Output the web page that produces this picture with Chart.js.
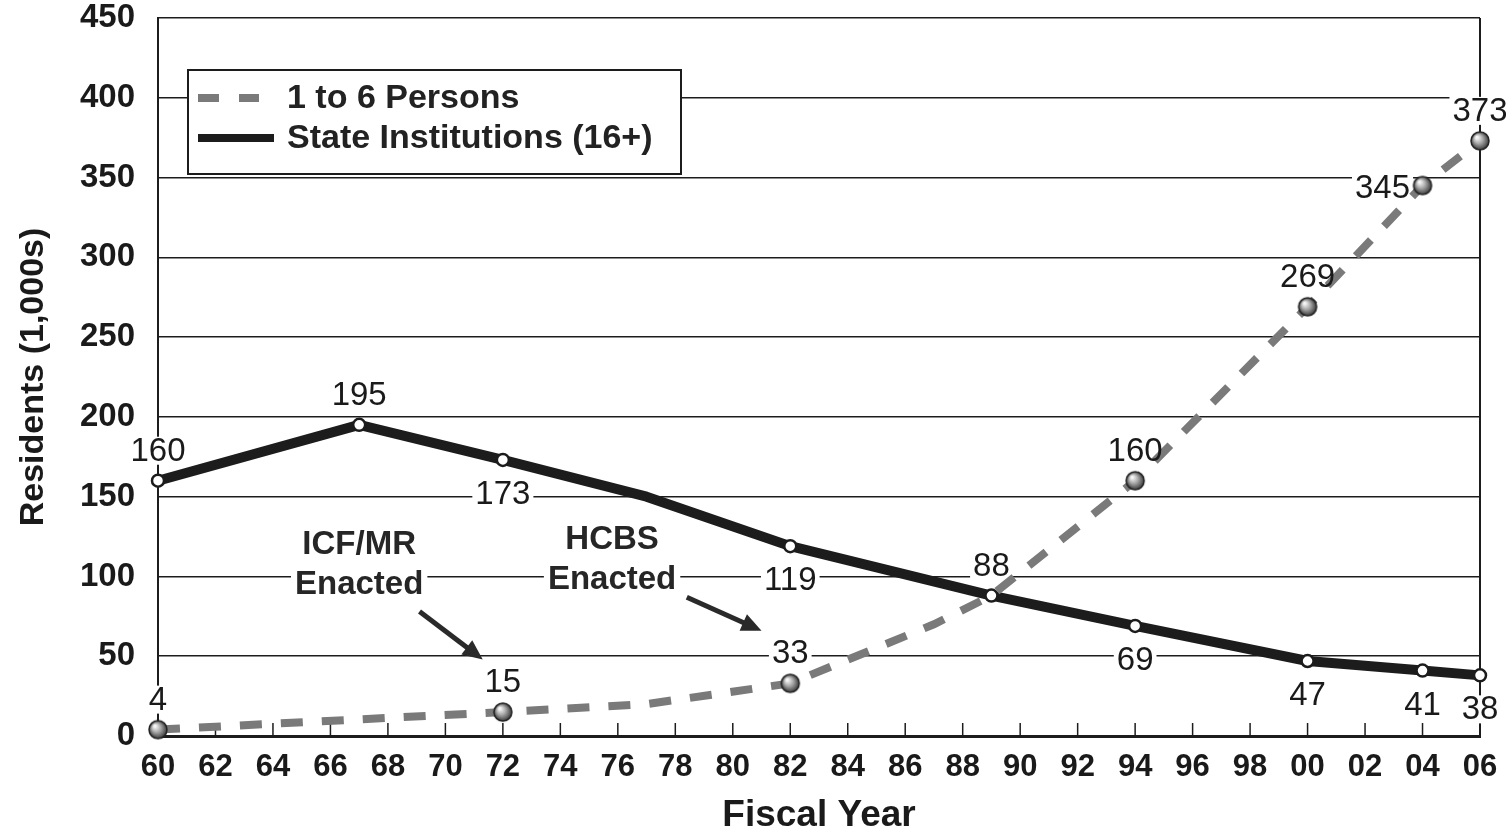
<!DOCTYPE html>
<html>
<head>
<meta charset="utf-8">
<title>Residents by Fiscal Year</title>
<script src="https://cdn.jsdelivr.net/npm/chart.js@4.4.1/dist/chart.umd.min.js"></script>
<style>
  html, body { margin: 0; padding: 0; background: #fff; }
  #chart { display: block; }
</style>
</head>
<body>
<canvas id="chart" width="1506" height="834"></canvas>
<script>
// Residents (1,000s) by fiscal year
const stateYears = [1960, 1967, 1972, 1977, 1982, 1989, 1994, 2000, 2004, 2006];
const stateResidents = [160, 195, 173, 150, 119, 88, 69, 47, 41, 38];

const smallYears = [1960, 1972, 1977, 1982, 1987, 1989, 1994, 2000, 2004, 2006];
const smallResidents = [4, 15, 20, 33, 70, 88, 160, 269, 345, 373];

const seriesNames = ['1 to 6 Persons', 'State Institutions (16+)'];

// which points carry a marker + value label, and on which side (null = none)
const stateLabelSide = ['above', 'above', 'below', null, 'below', 'above', 'below', 'below', 'below', 'below'];
const smallLabelSide = ['above', 'above', null, 'above', null, null, 'above', 'above', 'left', 'above'];

// notes written on the chart, placed in data units (year, residents)
const notes = [
  { lines: ['ICF/MR', 'Enacted'], year: 1967, at: [120, 95], arrow: [[1969.1, 78], [1971.3, 48]] },
  { lines: ['HCBS', 'Enacted'], year: 1975.8, at: [123, 98], arrow: [[1978.4, 87], [1981.0, 66]] }
];

const FONT = "'Liberation Sans', Arial, Helvetica, sans-serif";
const DASH_GREY = '#7a7a7a';
const INK = '#1c1c1c';

// little shaded ball used for the dashed series markers
function makeSphere(r) {
  const c = document.createElement('canvas');
  const s = r * 2 + 4;
  c.width = s;
  c.height = s;
  const g = c.getContext('2d');
  const grad = g.createRadialGradient(s / 2 - r * 0.35, s / 2 - r * 0.4, 1, s / 2, s / 2, r);
  grad.addColorStop(0, '#f6f6f6');
  grad.addColorStop(0.45, '#a9a9a9');
  grad.addColorStop(1, '#3a3a3a');
  g.fillStyle = grad;
  g.beginPath();
  g.arc(s / 2, s / 2, r, 0, Math.PI * 2);
  g.fill();
  g.lineWidth = 1.5;
  g.strokeStyle = '#222';
  g.stroke();
  return c;
}
const sphere = makeSphere(9);

function labelOffset(side) {
  if (side === 'above') return [0, -30];
  if (side === 'below') return [0, 34];
  if (side === 'left') return [-40, 2];
  return [0, 0];
}

function eachLabel(chart, fn) {
  chart.data.datasets.forEach((ds, i) => {
    const meta = chart.getDatasetMeta(i);
    const sides = ds.labelSide;
    meta.data.forEach((pt, j) => {
      const side = sides[j];
      if (!side) return;
      const [dx, dy] = labelOffset(side);
      fn(String(ds.data[j].y), pt.x + dx, pt.y + dy);
    });
  });
}

// value labels, notes, inner tick marks, right border and the boxed legend
const decorations = {
  id: 'decorations',
  beforeDatasetsDraw(chart) {
    const { ctx, chartArea: area, scales: { x, y } } = chart;
    ctx.save();

    // short tick marks pointing up into the plot
    ctx.strokeStyle = INK;
    ctx.lineWidth = 1.5;
    x.ticks.forEach(t => {
      if (t.value === 1960) return;
      const px = x.getPixelForValue(t.value);
      ctx.beginPath();
      ctx.moveTo(px, area.bottom);
      ctx.lineTo(px, area.bottom - 13);
      ctx.stroke();
    });

    // right-hand frame line
    ctx.lineWidth = 2;
    ctx.beginPath();
    ctx.moveTo(area.right, area.top);
    ctx.lineTo(area.right, area.bottom);
    ctx.stroke();

    // white patches behind value labels so grid lines break around them
    ctx.font = '33px ' + FONT;
    ctx.fillStyle = '#fff';
    eachLabel(chart, (text, lx, ly) => {
      const w = ctx.measureText(text).width;
      ctx.fillRect(lx - w / 2 - 3, ly - 14, w + 6, 28);
    });

    // notes with arrows
    ctx.font = 'bold 33px ' + FONT;
    ctx.textAlign = 'center';
    ctx.textBaseline = 'middle';
    notes.forEach(n => {
      const nx = x.getPixelForValue(n.year);
      n.lines.forEach((line, k) => {
        const ny = y.getPixelForValue(n.at[k]);
        const w = ctx.measureText(line).width;
        ctx.fillStyle = '#fff';
        ctx.fillRect(nx - w / 2 - 4, ny - 15, w + 8, 30);
        ctx.fillStyle = '#262626';
        ctx.fillText(line, nx, ny);
      });
      const x1 = x.getPixelForValue(n.arrow[0][0]);
      const y1 = y.getPixelForValue(n.arrow[0][1]);
      const x2 = x.getPixelForValue(n.arrow[1][0]);
      const y2 = y.getPixelForValue(n.arrow[1][1]);
      const ang = Math.atan2(y2 - y1, x2 - x1);
      ctx.strokeStyle = '#2a2a2a';
      ctx.lineWidth = 5;
      ctx.beginPath();
      ctx.moveTo(x1, y1);
      ctx.lineTo(x2 - 14 * Math.cos(ang), y2 - 14 * Math.sin(ang));
      ctx.stroke();
      ctx.fillStyle = '#2a2a2a';
      ctx.beginPath();
      ctx.moveTo(x2, y2);
      ctx.lineTo(x2 - 20 * Math.cos(ang) + 9 * Math.sin(ang), y2 - 20 * Math.sin(ang) - 9 * Math.cos(ang));
      ctx.lineTo(x2 - 20 * Math.cos(ang) - 9 * Math.sin(ang), y2 - 20 * Math.sin(ang) + 9 * Math.cos(ang));
      ctx.closePath();
      ctx.fill();
    });
    ctx.restore();
  },
  afterDatasetsDraw(chart) {
    const { ctx, chartArea: area } = chart;
    ctx.save();
    ctx.font = '33px ' + FONT;
    ctx.fillStyle = '#1a1a1a';
    ctx.textAlign = 'center';
    ctx.textBaseline = 'middle';
    eachLabel(chart, (text, lx, ly) => ctx.fillText(text, lx, ly + 1));

    // legend box
    const bx = area.left + 30;
    const by = area.top + 52;
    ctx.fillStyle = '#fff';
    ctx.fillRect(bx, by, 493, 104);
    ctx.strokeStyle = INK;
    ctx.lineWidth = 2;
    ctx.strokeRect(bx, by, 493, 104);

    const rowY = [by + 28, by + 68];
    ctx.lineWidth = 8;
    ctx.strokeStyle = DASH_GREY;
    ctx.beginPath();
    ctx.moveTo(bx + 10, rowY[0]); ctx.lineTo(bx + 31, rowY[0]);
    ctx.moveTo(bx + 51, rowY[0]); ctx.lineTo(bx + 71, rowY[0]);
    ctx.stroke();
    ctx.strokeStyle = INK;
    ctx.beginPath();
    ctx.moveTo(bx + 10, rowY[1]); ctx.lineTo(bx + 86, rowY[1]);
    ctx.stroke();

    ctx.font = 'bold 34px ' + FONT;
    ctx.fillStyle = '#222';
    ctx.textAlign = 'left';
    seriesNames.forEach((name, k) => ctx.fillText(name, bx + 99, rowY[k] + 1));
    ctx.restore();
  }
};

const ctx = document.getElementById('chart').getContext('2d');
new Chart(ctx, {
  type: 'line',
  data: {
    datasets: [
      {
        label: seriesNames[0],
        data: smallYears.map((yr, i) => ({ x: yr, y: smallResidents[i] })),
        labelSide: smallLabelSide,
        borderColor: DASH_GREY,
        borderWidth: 8,
        borderDash: [22, 19],
        borderCapStyle: 'butt',
        tension: 0,
        pointStyle: sphere,
        pointRadius: c => (smallLabelSide[c.dataIndex] ? 9 : 0),
        clip: 12,
        order: 0
      },
      {
        label: seriesNames[1],
        data: stateYears.map((yr, i) => ({ x: yr, y: stateResidents[i] })),
        labelSide: stateLabelSide,
        borderColor: INK,
        borderWidth: 10,
        borderJoinStyle: 'round',
        tension: 0,
        pointStyle: 'circle',
        pointRadius: c => (stateLabelSide[c.dataIndex] ? 6 : 0),
        pointBackgroundColor: '#fff',
        pointBorderColor: INK,
        pointBorderWidth: 2.5,
        clip: 12,
        order: 1
      }
    ]
  },
  options: {
    responsive: false,
    animation: false,
    layout: { padding: { left: 0, right: 26, top: 18, bottom: 0 } },
    plugins: {
      legend: { display: false },
      tooltip: { enabled: false }
    },
    scales: {
      x: {
        type: 'linear',
        min: 1960,
        max: 2006,
        afterFit: s => {
          s.height = 98;
          s.paddingLeft = 0;
          s.paddingRight = 0;
        },
        ticks: {
          stepSize: 2,
          autoSkip: false,
          maxRotation: 0,
          padding: 13,
          color: '#1a1a1a',
          font: { family: FONT, size: 31, weight: 'bold' },
          callback: v => String(v % 100).padStart(2, '0')
        },
        grid: { drawOnChartArea: false, drawTicks: false },
        border: { display: true, color: INK, width: 3 },
        title: {
          display: true,
          text: 'Fiscal Year',
          color: '#1a1a1a',
          font: { family: FONT, size: 37, weight: 'bold', lineHeight: 1 },
          padding: { top: 0, bottom: 0 }
        }
      },
      y: {
        min: 0,
        max: 450,
        afterFit: s => {
          s.width = 158;
          s.paddingTop = 0;
          s.paddingBottom = 0;
        },
        ticks: {
          stepSize: 50,
          padding: 23,
          color: '#1a1a1a',
          font: { family: FONT, size: 33, weight: 'bold' }
        },
        grid: { color: INK, lineWidth: 1.5, drawTicks: false },
        border: { display: true, color: INK, width: 2 },
        title: {
          display: true,
          text: 'Residents (1,000s)',
          color: '#1a1a1a',
          font: { family: FONT, size: 34, weight: 'bold', lineHeight: 1.2 },
          padding: { top: 13, bottom: 0 }
        }
      }
    }
  },
  plugins: [decorations]
});
</script>
</body>
</html>
